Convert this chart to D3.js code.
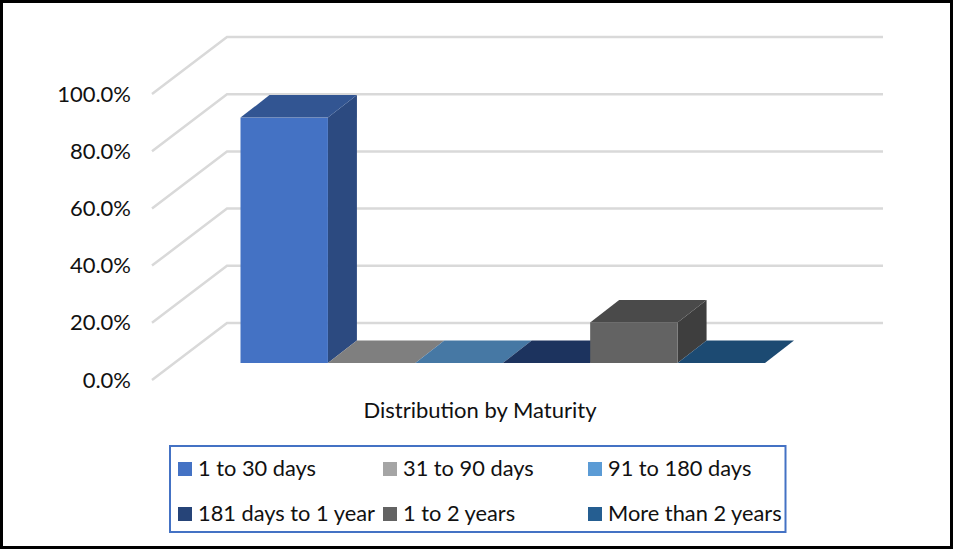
<!DOCTYPE html>
<html>
<head>
<meta charset="utf-8">
<title>Distribution by Maturity</title>
<script src="https://d3js.org/d3.v7.min.js"></script>
<style>
  html, body { margin: 0; padding: 0; background: #fff; }
  svg { display: block; }
  text { font-family: Lato, "Open Sans", sans-serif; fill: #111; }
</style>
</head>
<body>
<script>
var categories = ["1 to 30 days", "31 to 90 days", "91 to 180 days", "181 days to 1 year", "1 to 2 years", "More than 2 years"];
var seriesValues = [85.8, 0, 0, 0, 14.2, 0];
var tickValues = [0, 20, 40, 60, 80, 100];
var axisTitle = "Distribution by Maturity";
var frontColors = ["#4472C4", "#A5A5A5", "#5B9BD5", "#264478", "#636363", "#255E91"];
var topColors = ["#325592", "#7F7F7F", "#4678A4", "#1C335E", "#4A4A4A", "#1C4A72"];
var sideColors = ["#2C4A80", "#6B6B6B", "#3B6589", "#182B50", "#3E3E3E", "#183E60"];

var width = 954, height = 550;
var svg = d3.select("body").append("svg").attr("width", width).attr("height", height);

svg.append("rect").attr("x", 1.5).attr("y", 1.5)
  .attr("width", width - 4).attr("height", height - 4)
  .attr("fill", "#fff").attr("stroke", "#000").attr("stroke-width", 3);

// y scale is for the front edge of the chart box
var y = d3.scaleLinear().domain([0, 100]).range([380, 94]);
var x = d3.scaleBand().domain(categories).range([240.5, 765]).padding(0);

var wallLeft = 152, wallDx = 75, wallDy = -57, wallRight = 883;
var depthDx = 29, depthDy = -22.5;
var barBaseShift = -17; // bars stand a little way back from the front edge

// wall and floor grid
var grid = svg.append("g").attr("fill", "none").attr("stroke", "#D9D9D9").attr("stroke-width", 2.5);
tickValues.forEach(function(t) {
  var p = d3.path();
  p.moveTo(wallLeft, y(t));
  p.lineTo(wallLeft + wallDx, y(t) + wallDy);
  p.lineTo(wallRight, y(t) + wallDy);
  grid.append("path").attr("d", p.toString());
});

// tick labels
var axis = d3.axisLeft(y).tickValues(tickValues).tickSize(0).tickPadding(0)
  .tickFormat(function(d) { return d3.format(".1f")(d) + "%"; });
var axisG = svg.append("g").attr("transform", "translate(131,0)").call(axis);
axisG.select(".domain").remove();
axisG.selectAll("text").style("font-size", "22px").style("font-family", "Lato, sans-serif").attr("fill", "#111");

function poly(points) {
  return d3.line()(points) + "Z";
}

// bars
var bars = svg.append("g").selectAll("g").data(categories).enter().append("g");
bars.each(function(c, i) {
  var g = d3.select(this);
  var x0 = x(c), x1 = x0 + x.bandwidth();
  var base = y(0) + barBaseShift;
  var top = y(seriesValues[i]) + barBaseShift;
  if (seriesValues[i] > 0) {
    g.append("path").attr("fill", sideColors[i])
      .attr("d", poly([[x1, base], [x1 + depthDx, base + depthDy], [x1 + depthDx, top + depthDy], [x1, top]]));
    g.append("rect").attr("fill", frontColors[i])
      .attr("x", x0).attr("y", top).attr("width", x1 - x0).attr("height", base - top);
  }
  g.append("path").attr("fill", topColors[i])
    .attr("d", poly([[x0, top], [x0 + depthDx, top + depthDy], [x1 + depthDx, top + depthDy], [x1, top]]));
});

svg.append("text").attr("x", 480).attr("y", 418).attr("text-anchor", "middle")
  .style("font-size", "22px").text(axisTitle);

// legend
svg.append("rect").attr("x", 170).attr("y", 446).attr("width", 615.5).attr("height", 86)
  .attr("fill", "none").attr("stroke", "#4472C4").attr("stroke-width", 2);
var legendX = d3.scalePoint().domain([0, 1, 2]).range([178, 588]);
var legendY = d3.scalePoint().domain([0, 1]).range([462, 507]);
var items = svg.append("g").selectAll("g").data(categories).enter().append("g")
  .attr("transform", function(d, i) {
    return "translate(" + legendX(i % 3) + "," + legendY(Math.floor(i / 3)) + ")";
  });
items.append("rect").attr("width", 14).attr("height", 14)
  .attr("fill", function(d, i) { return frontColors[i]; });
items.append("text").attr("x", 20).attr("y", 13.5).style("font-size", "21.8px")
  .text(function(d) { return d; });
</script>
</body>
</html>
